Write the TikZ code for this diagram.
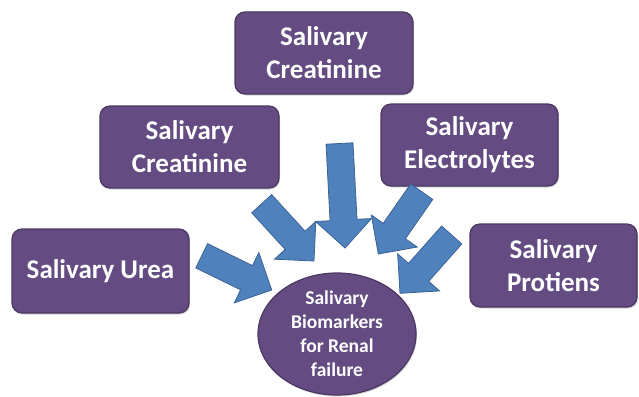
\documentclass[tikz,border=0pt]{standalone}
\usepackage{fontspec}
\setmainfont{Carlito}
\usetikzlibrary{calc,shapes.geometric,shadows}
\definecolor{boxfill}{HTML}{644C82}
\definecolor{boxline}{HTML}{4A3862}
\definecolor{arrfill}{HTML}{4F81BD}
\definecolor{arrline}{HTML}{3A6294}
\tikzset{
  pbox/.style={rectangle, rounded corners=10pt, fill=boxfill, draw=boxline, line width=1.2pt,
    text=white, font=\bfseries\fontsize{27}{33}\selectfont, align=center, inner sep=0pt,
    drop shadow={shadow xshift=1pt, shadow yshift=-1.5pt, opacity=0.35}},
  pell/.style={ellipse, fill=boxfill, draw=boxline, line width=1.2pt, text=white,
    font=\bfseries\fontsize{19.5}{24}\selectfont, align=center, inner sep=0pt,
    drop shadow={shadow xshift=1pt, shadow yshift=-1.5pt, opacity=0.35}},
  barrow/.style={fill=arrfill, draw=arrline, line width=0.8pt, line join=miter}
}
\newcommand{\blockarr}[2]{%
  \coordinate (ba) at ($(#2)!28pt!(#1)$);
  \draw[barrow] ($(#1)!13.5pt!90:(#2)$) -- ($(ba)!13.5pt!90:(#2)$) -- ($(ba)!28pt!90:(#2)$)
    -- (#2) -- ($(ba)!28pt!-90:(#2)$) -- ($(ba)!13.5pt!-90:(#2)$) -- ($(#1)!13.5pt!-90:(#2)$) -- cycle;}
\begin{document}
\begin{tikzpicture}[x=1pt,y=-1pt]
\useasboundingbox (0,0) rectangle (639,396);
\node[pbox, minimum width=178pt, minimum height=82pt] (top) at (324,53) {Salivary\\Creatinine};
\node[pbox, minimum width=179pt, minimum height=82pt] (lcr) at (189.5,147) {Salivary\\Creatinine};
\node[pbox, minimum width=177pt, minimum height=82pt] (ele) at (469.5,145) {Salivary\\Electrolytes};
\node[pbox, minimum width=177pt, minimum height=84pt] (ure) at (100.5,271) {Salivary Urea};
\node[pbox, minimum width=167pt, minimum height=83pt] (pro) at (553.5,265.5) {Salivary\\Protiens};
\node[pell, minimum width=158pt, minimum height=122pt] (bio) at (337,334) {Salivary\\Biomarkers\\for Renal\\failure};
\coordinate (t1) at (201.7,255.8); \coordinate (h1) at (271.7,290);
\coordinate (t2) at (261.7,203.7); \coordinate (h2) at (314,261);
\coordinate (t3) at (339.5,143.5); \coordinate (h3) at (345,248);
\coordinate (t4) at (421.7,191.7); \coordinate (h4) at (378.3,254);
\coordinate (t5) at (451.7,235);   \coordinate (h5) at (400,293.3);
\blockarr{t1}{h1}
\blockarr{t2}{h2}
\blockarr{t3}{h3}
\blockarr{t4}{h4}
\blockarr{t5}{h5}
\end{tikzpicture}
\end{document}
